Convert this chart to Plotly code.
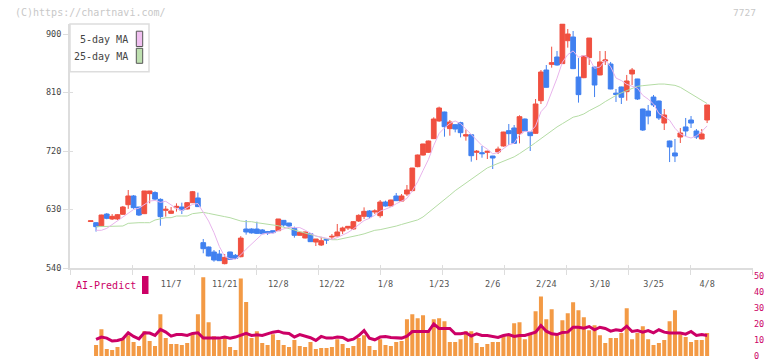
import plotly.graph_objects as go

W, H = 772, 361

# ---------------- data ----------------
candle_idx = list(range(116))
opens = [611.5, 609.7, 605, 623, 615.4, 615.4, 622.6, 637.4, 650.8, 633.8,
         623.6, 654.4, 656, 645.6, 628.7, 624.1, 632.8, 633.8, 630.8, 640.5,
         647.7, 579, 572.3, 564.6, 561.5, 546.7, 564.6, 559.5, 557.4, 600,
         600, 600, 598.5, 596, 597.4, 597.4, 613.3, 609.2, 601, 590.3,
         586.2, 592.8, 580, 575.4, 584.6, 587.7, 589.2, 597, 601.5, 600,
         612.3, 619.5, 627.7, 626.2, 620.5, 641.5, 635.4, 650.8, 643, 653.8,
         659, 695.9, 713.8, 718, 739, 766.2, 780, 754.4, 760.5, 763.6,
         743, 745, 718, 717.4, 718, 712.3, 718.5, 727.7, 751.3, 755.4,
         746.7, 769.2, 749.2, 747.2, 797.4, 844.6, 853.3, 864.6, 854.4, 889.7,
         895.4, 833.8, 832.8, 863.6, 849.2, 837, 858.5, 853.8, 809, 818.5,
         811.3, 838.5, 830.8, 784.6, 781.5, 803, 796.9, 763, 735.4, 717,
         741.5, 757, 767.7, 750.8, 738.5, 767.7]
highs = [612.5, 610, 622, 624.5, 623, 623, 635.4, 660, 652.3, 634,
         658.5, 658.5, 658, 647.2, 635.4, 633.8, 639.5, 640.5, 641.5, 658.5,
         656, 584.6, 573, 567.7, 567.7, 561.5, 565, 561.5, 589, 613.8,
         601, 611.3, 600, 597, 597.5, 615.4, 613.8, 609.5, 603.6, 596,
         595.9, 593, 584.6, 588, 584.6, 592.3, 607.7, 603.6, 604.6, 612.3,
         622.6, 633.3, 629.2, 630.3, 644.6, 643.6, 645, 655.4, 653.8, 667.7,
         694, 714.5, 731, 736, 771.8, 788.2, 780.5, 767.7, 761, 765,
         753, 745.5, 721.5, 727.7, 720.5, 712.5, 726.7, 749.5, 761.5, 760,
         774.9, 770, 749.5, 800, 844.6, 852.3, 880.5, 873.8, 915.4, 907.7,
         904.6, 863, 866.5, 893.8, 849.5, 873.8, 873.8, 857, 815.4, 819,
         837, 847.7, 831, 785, 790.8, 806.2, 797.5, 784.6, 736, 738.5,
         755.4, 770.8, 773.8, 753.8, 753.8, 790.8]
lows = [611, 596, 604, 615, 613.8, 614, 622, 631, 631, 620,
        623, 639.5, 644.6, 605, 619, 623, 626.7, 623, 630, 640,
        634, 562.6, 558, 549.7, 551, 545.6, 553, 554, 556.4, 591.3,
        593, 592.3, 592, 590.8, 593, 597, 603.6, 602.6, 586.7, 590,
        585.6, 580, 573.8, 573.8, 577, 583.6, 589, 592.3, 598.5, 599,
        610.8, 615.4, 616.4, 623, 617.4, 634.4, 635, 643, 642.5, 650.8,
        658, 695, 713, 717, 738.5, 765, 742, 743.6, 748.7, 741,
        735.9, 703.6, 706, 709.7, 707.7, 692.3, 715.4, 726.7, 729.2, 731,
        731.8, 750, 720, 746.5, 792.3, 817.5, 848.2, 851.3, 854, 879,
        846, 794.4, 832, 852.3, 803, 836.5, 852.3, 815, 795.4, 792.3,
        797.4, 821.5, 798.5, 750.8, 761, 787.7, 767.7, 752.3, 703, 703,
        732.3, 743, 755.4, 738.5, 738, 763]
closes = [612.5, 603.6, 621.5, 616.4, 619.5, 622, 633.8, 650.8, 632.8, 621.5,
          658.5, 658.5, 646, 619, 630.3, 627.7, 634.9, 629.2, 640.5, 657.4,
          634.4, 569.7, 558.5, 552.3, 551.3, 556.4, 553.3, 554.9, 586, 595.4,
          594, 593.3, 592.8, 593.3, 594.4, 615.4, 606.2, 604.6, 590.3, 594.9,
          595.4, 580.5, 584.6, 582, 583.1, 588.7, 595.4, 601.5, 604.1, 611.3,
          621, 627.2, 619, 627.7, 641.5, 635.4, 644.6, 643.6, 650.8, 660,
          693.8, 713.8, 730.8, 735.4, 769.2, 786.2, 757.4, 764.6, 753.8, 748.2,
          745, 712.8, 719.5, 715.9, 719.5, 709.2, 723, 749.2, 746.7, 731.8,
          772.8, 750.8, 743.6, 792.3, 841.5, 818, 855.9, 852.3, 915.4, 900,
          846.7, 806.7, 866.2, 893.8, 821.5, 857, 860, 815.4, 807, 802.6,
          827.7, 844.6, 800, 752.3, 773.8, 790.8, 770.8, 775.4, 726.2, 712.3,
          747.7, 750.8, 763, 741.5, 746.2, 790.8]

line_idx = list(range(1, 116))
ma5 = [598, 598, 601, 607, 612, 618, 625, 630, 632, 638, 643, 644,
       641.0, 642.6, 636.4, 631.6, 628.2, 632.6, 638.0, 639.2, 626.2, 612.2,
       594.4, 573.2, 557.6, 554.2, 553.4, 560.2, 569.0, 576.6, 584.6, 592.2,
       593.6, 593.4, 597.6, 600.2, 602.6, 602.0, 602.2, 598.2, 593.2, 589.2,
       587.6, 585.2, 584.0, 586.8, 590.2, 594.6, 600.2, 606.6, 613.0, 616.4,
       621.2, 627.4, 630.2, 633.8, 638.8, 643.4, 647.0, 658.8, 672.6, 690.0,
       706.8, 728.6, 747.0, 755.6, 762.4, 766.2, 762.0, 753.8, 745.0, 736.0,
       728.4, 722.8, 715.6, 717.6, 723.4, 729.6, 732.0, 744.8, 750.4, 749.4,
       758.4, 780.4, 789.4, 810.4, 832.0, 856.6, 868.2, 874.0, 864.2, 867.0,
       862.8, 847.2, 849.2, 859.8, 849.6, 832.2, 828.4, 822.6, 819.6, 816.6,
       805.6, 799.8, 792.4, 777.6, 772.6, 767.4, 755.0, 746.4, 742.4, 740.0,
       743.2, 750.0, 758.6]
ma25 = [603.6, 603.6, 603.6, 603.6, 603.6, 604.6, 608.7, 609.7, 609.7, 609.7,
        609.7, 613.8, 615.4, 617.4, 617.4, 620, 620, 620, 623.6, 625,
        625.6, 624, 622, 620.5, 619, 617.4, 615, 612.3, 611.3, 611.3,
        609.7, 608.7, 607.2, 606.7, 605, 602.6, 601, 598.5, 596, 593.5,
        591, 589, 587, 585, 583.5, 583.5, 585, 586.5, 588.2, 590.5,
        592.5, 595.5, 598, 599, 600.5, 602, 604.5, 607, 609, 611,
        614, 618.5, 625, 631.5, 638.5, 645.5, 652, 659, 665, 671,
        677, 683, 689, 694, 697.5, 701, 704, 707, 711, 716,
        721, 727, 733, 739, 746, 752, 757, 762, 767, 772,
        774, 777, 782, 786, 790.5, 796, 801, 805.5, 809.5, 813,
        816.5, 819.5, 820.5, 821.5, 822, 823, 823, 822.5, 821, 818,
        813, 808, 803, 797.5, 793]
volume = [6.9, 16.9, 4.4, 3.75, 5.6, 10.6, 13.1, 8.75, 6.25, 15.6,
          9.4, 6.25, 26.25, 11.25, 7.5, 7.5, 6.9, 8.1, 14.4, 26.25,
          49.5, 21.25, 12.5, 10.6, 11.25, 5.6, 3.75, 48.75, 34, 11.25,
          15.6, 8.1, 6.9, 13.75, 10, 6.9, 5.6, 10, 6.25, 5.6,
          8.75, 4.4, 5, 5, 5.6, 10.6, 7.5, 5, 6.25, 11.25,
          13.1, 6.25, 3.75, 10.6, 6.9, 6.25, 8.75, 9.4, 23.1, 26.25,
          23.75, 25.6, 15.6, 23.1, 23.75, 21.9, 8.75, 8.75, 10.6, 15.6,
          15.6, 8.1, 5.6, 7.5, 8.75, 8.75, 13.1, 13.75, 20.6, 21.25,
          10.6, 13.75, 28.1, 37.5, 23.1, 29.4, 13.1, 22.5, 26.9, 33.75,
          28.75, 24.4, 16.25, 19.4, 13.1, 8.1, 11.25, 11.25, 14.4, 30,
          10.6, 14.4, 18.75, 10.6, 6.9, 8.1, 10, 21.9, 28.75, 13.75,
          11.9, 8.75, 10, 10, 14.4]
ai_predict = [10.4, 11.9, 11.25, 9.4, 9.8, 10.8, 14.6, 12.3, 10.8, 14.6,
              14.4, 12.9, 16.7, 15, 12.5, 13.5, 13.5, 12.9, 14.2, 14.6,
              11.25, 11.25, 11.25, 11.25, 11.9, 11.25, 11.9, 12.9, 14.2, 12.9,
              13.3, 12.9, 14.2, 15, 15.6, 14.4, 14.2, 11.9, 13.5, 12.5,
              11.5, 9.8, 12.3, 11.25, 11.25, 11.9, 11.7, 9.8, 10.6, 12.9,
              16, 11.25, 10.2, 11.9, 12.3, 11.7, 11.25, 11.25, 12.5, 15.4,
              15.4, 15.4, 15.4, 20.2, 17.3, 17.3, 17.3, 14, 14, 14.6,
              12.5, 14, 12.9, 12.9, 12.3, 11.7, 12.9, 13.5, 12.3, 12.9,
              12.9, 14, 15, 19.2, 15.6, 14, 13.5, 14.8, 15, 18.1,
              18.1, 17.5, 18.5, 16.5, 18.1, 17.3, 15.6, 16.5, 16, 18.75,
              15.4, 16, 15, 16, 14.6, 16.5, 15, 14.4, 14.6, 14.4,
              13.75, 15.4, 12.9, 13.5, 12.9]

date_labels = ["11/7", "11/21", "12/8", "12/22", "1/8", "1/23", "2/6", "2/24", "3/10", "3/25", "4/8"]
date_label_idx = [15, 25, 35, 45, 55, 65, 75, 85, 95, 105, 115]
price_ticks = [540, 630, 720, 810, 900]
vol_ticks = [0, 10, 20, 30, 40, 50]

# ---------------- style ----------------
UP = "#F05040"
DOWN = "#4080F0"
PINK = "#E8B4EC"
GREEN = "#B4DCA4"
ORANGE = "#F39A45"
CRIMSON = "#CC0066"
AXIS = "#DDDDDD"
MONO = "DejaVu Sans Mono"


def px(x):
    return x / W


def py(y):
    return 1 - y / H


x_dom = [px(70), px(753)]
x_rng = [-3.862, 123.56]
y_rng = [540, 916]
grid_tick0 = -3.862
grid_dtick = 11.567

fig = go.Figure()
fig.add_trace(go.Candlestick(
    x=candle_idx, open=opens, high=highs, low=lows, close=closes,
    increasing=dict(line=dict(color=UP, width=1), fillcolor=UP),
    decreasing=dict(line=dict(color=DOWN, width=1), fillcolor=DOWN),
    whiskerwidth=0, xaxis="x", yaxis="y", showlegend=False, hoverinfo="skip"))
fig.add_trace(go.Scatter(x=line_idx, y=ma25, mode="lines",
                         line=dict(color=GREEN, width=1), xaxis="x", yaxis="y",
                         showlegend=False, hoverinfo="skip"))
fig.add_trace(go.Scatter(x=line_idx, y=ma5, mode="lines",
                         line=dict(color=PINK, width=1), xaxis="x", yaxis="y",
                         showlegend=False, hoverinfo="skip"))
fig.add_trace(go.Bar(x=line_idx, y=volume, marker=dict(color=ORANGE, line=dict(width=0)),
                     xaxis="x2", yaxis="y2", showlegend=False, hoverinfo="skip"))
fig.add_trace(go.Scatter(x=line_idx, y=ai_predict, mode="lines",
                         line=dict(color=CRIMSON, width=3), xaxis="x2", yaxis="y2",
                         showlegend=False, hoverinfo="skip"))
# empty traces so that the helper axes (inner tick marks, date labels) are drawn
for xa, ya in (("x3", "y"), ("x", "y3"), ("x4", "y")):
    fig.add_trace(go.Scatter(x=[None], y=[None], mode="lines", xaxis=xa, yaxis=ya,
                             showlegend=False, hoverinfo="skip"))

common = dict(showgrid=False, zeroline=False, automargin=False)
fig.update_layout(
    width=W, height=H,
    margin=dict(l=0, r=0, t=0, b=0, pad=0, autoexpand=False),
    paper_bgcolor="white", plot_bgcolor="white",
    boxgap=0.12, boxgroupgap=0, bargap=0.25,
    showlegend=False,
    xaxis=dict(domain=x_dom, range=x_rng, anchor="y", tickmode="linear",
               tick0=grid_tick0, dtick=grid_dtick, ticks="outside", ticklen=5,
               tickcolor=AXIS, tickwidth=1, showticklabels=False, showline=True,
               linecolor=AXIS, linewidth=2, rangeslider=dict(visible=False), **common),
    xaxis3=dict(overlaying="x", range=x_rng, anchor="y", tickmode="linear",
                tick0=grid_tick0, dtick=grid_dtick, ticks="inside", ticklen=3,
                tickcolor=AXIS, showticklabels=False, showline=False, **common),
    xaxis4=dict(overlaying="x", range=x_rng, anchor="y", tickmode="array",
                tickvals=date_label_idx, ticktext=date_labels, ticks="outside",
                ticklen=8, tickcolor="rgba(0,0,0,0)", showline=False,
                ticklabeloverflow="allow",
                tickfont=dict(family=MONO, size=8.5, color="#555555"), **common),
    xaxis2=dict(domain=x_dom, range=x_rng, anchor="y2", showticklabels=False,
                ticks="", showline=False, **common),
    yaxis=dict(domain=[py(268), py(23.6)], range=y_rng, anchor="x",
               tickmode="array", tickvals=price_ticks, ticks="outside", ticklen=5,
               tickcolor=AXIS, showline=True, linecolor=AXIS, linewidth=2,
               ticklabeloverflow="allow",
               tickfont=dict(family=MONO, size=8.5, color="#444444"), **common),
    yaxis3=dict(overlaying="y", range=y_rng, anchor="x", tickmode="array",
                tickvals=price_ticks, ticks="inside", ticklen=3, tickcolor=AXIS,
                showticklabels=False, showline=False, **common),
    yaxis2=dict(domain=[py(356), py(276.5)], range=[0, 50], anchor="x2",
                side="right", tickmode="array", tickvals=vol_ticks, ticks="",
                showline=False, ticklabeloverflow="allow",
                tickfont=dict(family=MONO, size=8.5, color=CRIMSON), **common),
)

shapes = [
    dict(type="rect", xref="paper", yref="paper", x0=px(70), x1=px(149),
         y0=py(71.7), y1=py(24), line=dict(color="#DDDDDD", width=1.5),
         fillcolor="white", layer="above"),
    dict(type="rect", xref="paper", yref="paper", x0=px(136.3), x1=px(142.7),
         y0=py(46.5), y1=py(31.2), line=dict(color="#555555", width=1),
         fillcolor="#F0C0F0", layer="above"),
    dict(type="rect", xref="paper", yref="paper", x0=px(136.3), x1=px(142.7),
         y0=py(63.3), y1=py(48.3), line=dict(color="#555555", width=1),
         fillcolor="#BEE0B0", layer="above"),
    dict(type="rect", xref="paper", yref="paper", x0=px(142), x1=px(148.5),
         y0=py(294), y1=py(276), line=dict(width=0), fillcolor=CRIMSON,
         layer="above"),
]
annotations = [
    dict(text="(C)https://chartnavi.com/", xref="paper", yref="paper",
         x=px(13), y=py(12.5), xanchor="left", yanchor="middle", showarrow=False,
         font=dict(family=MONO, size=10, color="#C8C8C8")),
    dict(text="7727", xref="paper", yref="paper", x=px(758), y=py(12.5),
         xanchor="right", yanchor="middle", showarrow=False,
         font=dict(family=MONO, size=9.5, color="#C8C8C8")),
    dict(text="5-day MA", xref="paper", yref="paper", x=px(130), y=py(39.5),
         xanchor="right", yanchor="middle", showarrow=False,
         font=dict(family=MONO, size=10, color="#444444")),
    dict(text="25-day MA", xref="paper", yref="paper", x=px(130), y=py(56.5),
         xanchor="right", yanchor="middle", showarrow=False,
         font=dict(family=MONO, size=10, color="#444444")),
    dict(text="AI-Predict", xref="paper", yref="paper", x=px(74), y=py(285),
         xanchor="left", yanchor="middle", showarrow=False,
         font=dict(family=MONO, size=10, color=CRIMSON)),
]
fig.update_layout(shapes=shapes, annotations=annotations)

fig.write_html(
    "out.html",
    config={"displayModeBar": False},
    post_script="document.body.style.margin='0';document.body.style.padding='0';"
                "document.documentElement.style.overflow='hidden';",
)
